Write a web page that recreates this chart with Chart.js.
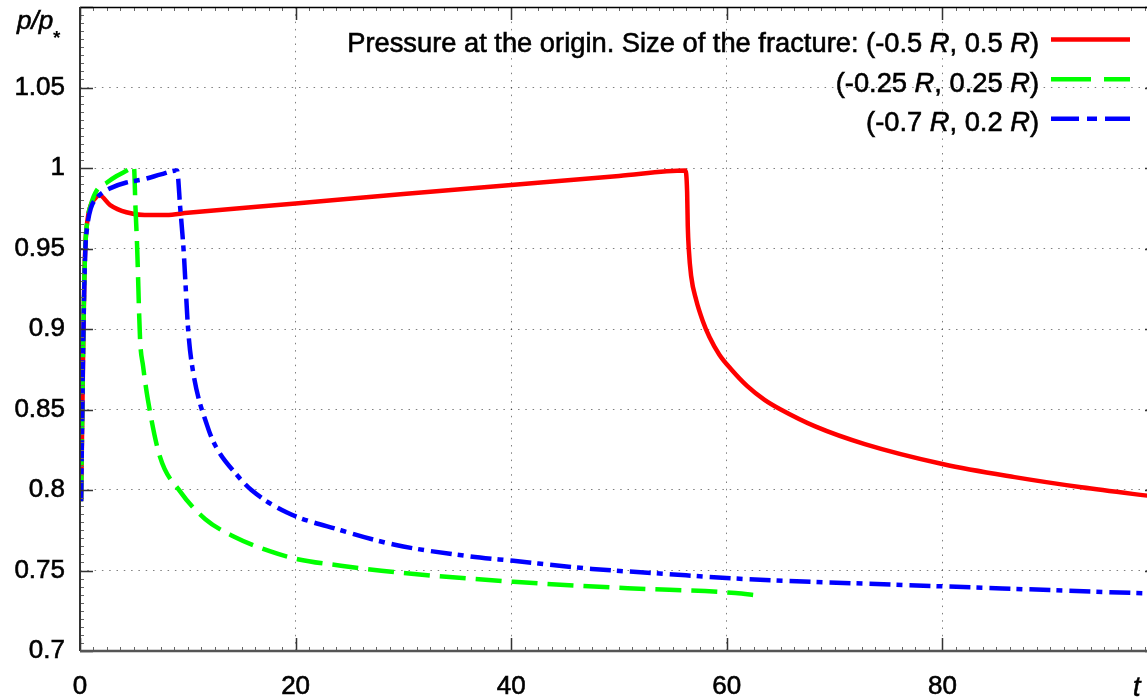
<!DOCTYPE html>
<html lang="en">
<head>
    <meta charset="UTF-8">
    <title>Pressure at the origin</title>
    <script src="https://cdn.jsdelivr.net/npm/chart.js"></script>
    <style>
        html, body {
            margin: 0;
            padding: 0;
            background: #fff;
            overflow: hidden;
        }
    </style>
</head>
<body>
    <canvas id="pressureChart" width="1160" height="699"></canvas>

    <script>
        // fracture (-0.5 R, 0.5 R)
        const tRed = [0.1, 0.2, 0.3, 0.4, 0.5, 0.7, 1.0, 1.4, 1.8, 2.8, 4.3, 6, 8, 10, 20, 30, 40, 50, 56.15,
                      56.32, 56.38, 56.47, 56.69, 57.16, 57.77, 58.39, 59.31, 60.4, 61.9, 63.5, 65.0, 68.2, 72.8, 80.1, 86.7, 92.9, 100];
        const pRed = [0.793, 0.84, 0.89, 0.93, 0.952, 0.968, 0.977, 0.981, 0.983, 0.977, 0.9725, 0.9708, 0.9708, 0.9722, 0.978, 0.9839, 0.9895, 0.9951, 0.9985,
                      0.985, 0.964, 0.950, 0.933, 0.918, 0.905, 0.895, 0.884, 0.875, 0.8645, 0.856, 0.850, 0.8395, 0.8285, 0.816, 0.808, 0.8017, 0.7956];

        // fracture (-0.25 R, 0.25 R)
        const tGreen = [0.1, 0.2, 0.3, 0.4, 0.5, 0.7, 1.0, 1.55, 2.5, 3.4, 4.5, 5.0, 5.15, 5.3, 5.57, 5.85, 6.3, 7.4,
                        9.3, 11.6, 14.3, 17.6, 20.2, 24.2, 29.2, 40.2, 50.8, 60.8, 62.8];
        const pGreen = [0.793, 0.845, 0.895, 0.93, 0.952, 0.968, 0.977, 0.986, 0.991, 0.995, 0.999, 1.001, 0.975, 0.951, 0.894, 0.877, 0.856, 0.821,
                        0.799, 0.782, 0.771, 0.762, 0.757, 0.753, 0.749, 0.743, 0.739, 0.736, 0.7345];

        // fracture (-0.7 R, 0.2 R)
        const tBlue = [0.1, 0.2, 0.3, 0.4, 0.5, 0.7, 1.0, 1.5, 2.16, 3.0, 4.3, 5.9, 7.5, 9.0, 9.3, 9.6, 10.05, 10.5,
                       11.8, 12.6, 14.6, 15.9, 19.2, 24.2, 29.2, 35.9, 40.2, 47.5, 54.1, 60.8, 76.5, 97.9, 100];
        const pBlue = [0.793, 0.843, 0.892, 0.927, 0.95, 0.965, 0.975, 0.981, 0.985, 0.988, 0.991, 0.993, 0.996, 0.9985, 0.975, 0.950, 0.898, 0.873,
                       0.840, 0.827, 0.809, 0.800, 0.786, 0.775, 0.766, 0.759, 0.756, 0.751, 0.748, 0.745, 0.741, 0.736, 0.7355];

        const xTicks = [0, 20, 40, 60, 80, 100];
        const yTicks = [0.7, 0.75, 0.8, 0.85, 0.9, 0.95, 1, 1.05, 1.1];

        // legend rows: [text, italic?] pieces
        const legendRows = [
            [["Pressure at the origin. Size of the fracture: (-0.5 ", false], ["R", true], [", 0.5 ", false], ["R", true], [")", false]],
            [["(-0.25 ", false], ["R", true], [", 0.25 ", false], ["R", true], [")", false]],
            [["(-0.7 ", false], ["R", true], [", 0.2 ", false], ["R", true], [")", false]]
        ];

        const FONT = "'Liberation Sans', Arial, sans-serif";
        const colors = ['#ff0000', '#00ff00', '#0000ff'];
        const lineDashes = [[], [26, 10], [21, 6, 6, 7]];
        const legendDashes = [[], [40, 13], [28, 8, 10, 8]];

        function toPoints(ts, ps) {
            return ts.map((t, i) => ({ x: t, y: ps[i] }));
        }

        function boldText(ctx, txt, x, y) {
            ctx.fillText(txt, x, y);
            ctx.strokeText(txt, x, y);
        }

        // ticks, axes, legend and axis titles
        const framePlugin = {
            id: 'frame',
            afterDatasetsDraw(chart) {
                const { ctx, chartArea: a, scales: { x, y } } = chart;
                ctx.save();

                // minor ticks
                ctx.strokeStyle = '#666';
                ctx.lineWidth = 1;
                ctx.beginPath();
                for (let v = 0; v <= 100.001; v += 1.25) {
                    const px = Math.round(x.getPixelForValue(v)) + 0.5;
                    ctx.moveTo(px, a.bottom); ctx.lineTo(px, a.bottom - 4);
                    ctx.moveTo(px, a.top); ctx.lineTo(px, a.top + 4);
                }
                for (let v = 0.7; v <= 1.1001; v += 0.005) {
                    const py = Math.round(y.getPixelForValue(v)) + 0.5;
                    ctx.moveTo(a.left, py); ctx.lineTo(a.left + 4, py);
                    ctx.moveTo(a.right, py); ctx.lineTo(a.right - 4, py);
                }
                ctx.stroke();

                // major ticks
                ctx.strokeStyle = '#333';
                ctx.lineWidth = 1.5;
                ctx.beginPath();
                xTicks.forEach(v => {
                    const px = Math.round(x.getPixelForValue(v)) + 0.5;
                    ctx.moveTo(px, a.bottom); ctx.lineTo(px, a.bottom - 13);
                    ctx.moveTo(px, a.top); ctx.lineTo(px, a.top + 13);
                });
                yTicks.forEach(v => {
                    const py = Math.round(y.getPixelForValue(v)) + 0.5;
                    ctx.moveTo(a.left, py); ctx.lineTo(a.left + 13, py);
                    ctx.moveTo(a.right, py); ctx.lineTo(a.right - 13, py);
                });
                ctx.stroke();

                // frame
                ctx.lineWidth = 1.5;
                ctx.strokeStyle = '#000';
                ctx.beginPath();
                ctx.moveTo(a.left, a.top + 0.5); ctx.lineTo(a.right, a.top + 0.5);
                ctx.moveTo(a.right - 0.5, a.top); ctx.lineTo(a.right - 0.5, a.bottom);
                ctx.stroke();
                ctx.lineWidth = 2;
                ctx.strokeStyle = '#333';
                ctx.beginPath();
                ctx.moveTo(a.left, a.top); ctx.lineTo(a.left, a.bottom);
                ctx.stroke();
                ctx.lineWidth = 2.5;
                ctx.strokeStyle = '#555';
                ctx.beginPath();
                ctx.moveTo(a.left, a.bottom); ctx.lineTo(a.right, a.bottom);
                ctx.stroke();

                // legend
                const textRight = 1039, lineStart = 1051, lineEnd = 1130;
                const rowY = [39.5, 79.3, 118.7];
                legendRows.forEach((pieces, i) => {
                    const base = rowY[i] + 12.5;
                    let xpos = textRight;
                    ctx.fillStyle = '#000';
                    ctx.strokeStyle = '#000';
                    ctx.lineWidth = 0.6;
                    ctx.textBaseline = 'alphabetic';
                    ctx.textAlign = 'left';
                    for (let k = pieces.length - 1; k >= 0; k--) {
                        const [txt, it] = pieces[k];
                        ctx.font = (it ? 'italic ' : '') + '27.3px ' + FONT;
                        xpos -= ctx.measureText(txt).width;
                        boldText(ctx, txt, xpos, base);
                    }
                    ctx.strokeStyle = colors[i];
                    ctx.lineWidth = 4.5;
                    ctx.setLineDash(legendDashes[i]);
                    ctx.beginPath();
                    ctx.moveTo(lineStart, rowY[i]);
                    ctx.lineTo(lineEnd, rowY[i]);
                    ctx.stroke();
                    ctx.setLineDash([]);
                });

                // axis titles
                ctx.fillStyle = '#000';
                ctx.strokeStyle = '#000';
                ctx.lineWidth = 0.6;
                ctx.textAlign = 'left';
                ctx.textBaseline = 'alphabetic';
                ctx.font = 'italic 26px ' + FONT;
                boldText(ctx, 'p/p', 17, 29);
                ctx.font = 'bold 19px ' + FONT;
                ctx.fillText('*', 53, 44);
                ctx.font = 'italic 27px ' + FONT;
                boldText(ctx, 't', 1133, 696);

                ctx.restore();
            }
        };

        const ctx = document.getElementById('pressureChart').getContext('2d');
        const pressureChart = new Chart(ctx, {
            type: 'line',
            data: {
                datasets: [
                    { data: toPoints(tRed, pRed), borderColor: colors[0], borderDash: lineDashes[0], order: 2 },
                    { data: toPoints(tGreen, pGreen), borderColor: colors[1], borderDash: lineDashes[1], order: 1 },
                    { data: toPoints(tBlue, pBlue), borderColor: colors[2], borderDash: lineDashes[2], order: 0 }
                ]
            },
            options: {
                responsive: false,
                animation: false,
                layout: { padding: { top: 7, right: 2, left: 0, bottom: 0 } },
                elements: {
                    line: { borderWidth: 4.5, fill: false, cubicInterpolationMode: 'monotone', borderCapStyle: 'butt' },
                    point: { radius: 0 }
                },
                plugins: {
                    legend: { display: false },
                    tooltip: { enabled: false }
                },
                scales: {
                    x: {
                        type: 'linear',
                        min: 0,
                        max: 100,
                        afterBuildTicks: s => { s.ticks = xTicks.map(v => ({ value: v })); },
                        afterFit: s => { s.height = 48; s.paddingLeft = 0; s.paddingRight = 0; },
                        grid: { color: 'rgba(0,0,0,0.5)', lineWidth: 1, drawTicks: false },
                        border: { display: false, dash: [1.5, 5.8] },
                        ticks: {
                            padding: 20,
                            color: '#000',
                            textStrokeColor: '#000',
                            textStrokeWidth: 0.6,
                            font: { family: FONT, size: 26 },
                            maxRotation: 0,
                            callback: v => v === 100 ? '' : String(v)
                        }
                    },
                    y: {
                        min: 0.7,
                        max: 1.1,
                        afterBuildTicks: s => { s.ticks = yTicks.map(v => ({ value: v })); },
                        afterFit: s => { s.width = 80; s.paddingTop = 0; s.paddingBottom = 0; },
                        grid: { color: 'rgba(0,0,0,0.5)', lineWidth: 1, drawTicks: false },
                        border: { display: false, dash: [1.5, 5.8] },
                        ticks: {
                            padding: 15,
                            color: '#000',
                            textStrokeColor: '#000',
                            textStrokeWidth: 0.6,
                            font: { family: FONT, size: 26 },
                            callback: v => v === 1.1 ? '' : String(v)
                        }
                    }
                }
            },
            plugins: [framePlugin]
        });
    </script>
</body>
</html>
